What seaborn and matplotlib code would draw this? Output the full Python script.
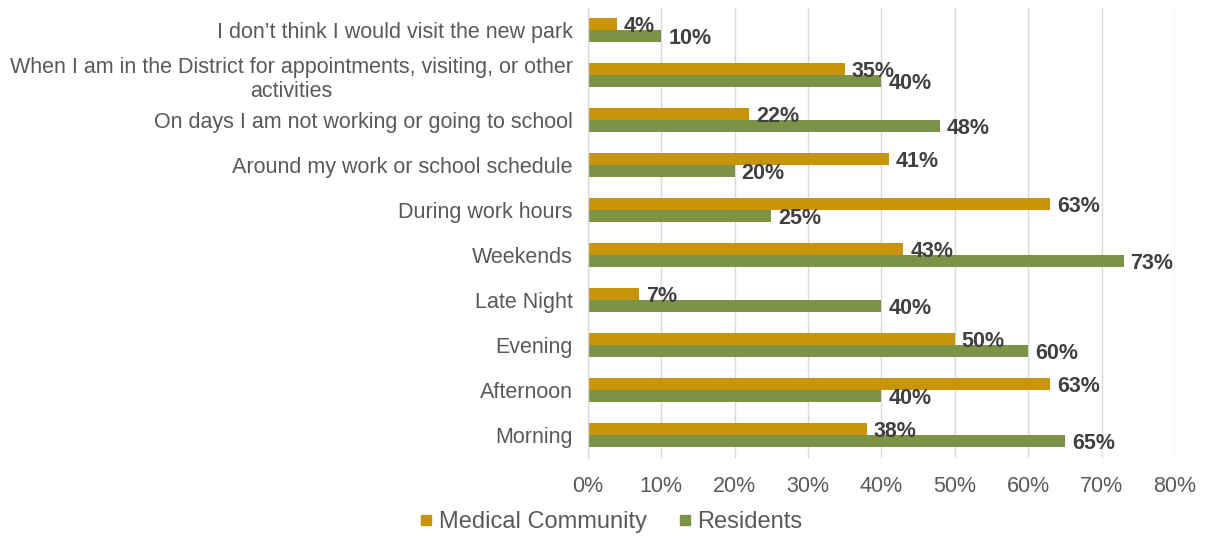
import matplotlib
matplotlib.use("Agg")
import matplotlib.pyplot as plt
import seaborn as sns
import pandas as pd
from matplotlib.lines import Line2D

categories = [
    "I don\u2019t think I would visit the new park",
    "When I am in the District for appointments, visiting, or other\nactivities",
    "On days I am not working or going to school",
    "Around my work or school schedule",
    "During work hours",
    "Weekends",
    "Late Night",
    "Evening",
    "Afternoon",
    "Morning",
]
medical = [4, 35, 22, 41, 63, 43, 7, 50, 63, 38]
residents = [10, 40, 48, 20, 25, 73, 40, 60, 40, 65]
series = ["Medical Community", "Residents"]
xticks = [0, 10, 20, 30, 40, 50, 60, 70, 80]

colors = ["#C8950A", "#7B9247"]

df = pd.DataFrame({
    "category": categories * 2,
    "value": medical + residents,
    "series": [series[0]] * len(categories) + [series[1]] * len(categories),
})

sns.set_theme(style="white")
plt.rcParams["font.family"] = ["Liberation Sans", "DejaVu Sans"]

fig = plt.figure(figsize=(12.07, 5.37), dpi=100)
ax = fig.add_axes([0.487, 0.148, 0.4865, 0.838])

sns.barplot(data=df, y="category", x="value", hue="series", order=categories,
            hue_order=series, palette=colors, orient="h", width=0.54,
            saturation=1, ax=ax, legend=False, edgecolor="none")

for cont in ax.containers:
    anns = ax.bar_label(cont, fmt="%d%%", padding=5, fontsize=15.5,
                        fontweight="bold", color="#404040")
    for a in anns:
        a.xyann = (5, -2)

ax.set_xlim(0, 80)
ax.set_xticks(xticks)
ax.set_xticklabels([f"{t}%" for t in xticks], fontsize=15.5, color="#595959")
ax.tick_params(axis="x", length=0, pad=13)
ax.tick_params(axis="y", length=0, pad=11, labelsize=15.5, labelcolor="#595959")
for lab in ax.get_yticklabels():
    lab.set_multialignment("center")
ax.set_xlabel("")
ax.set_ylabel("")
ax.grid(axis="x", color="#D9D9D9", linewidth=1)
ax.set_axisbelow(True)
for s in ["top", "right", "bottom"]:
    ax.spines[s].set_visible(False)
ax.spines["left"].set_color("#D9D9D9")
ax.spines["left"].set_linewidth(1)

handles = [Line2D([0], [0], marker="s", linestyle="none", markersize=7,
                  markerfacecolor=c, markeredgecolor=c) for c in colors]
fig.legend(handles, series, loc="lower center", bbox_to_anchor=(0.504, -0.032),
           ncol=2, frameon=False, fontsize=17, handletextpad=0.05,
           handlelength=1.0, columnspacing=1.1, labelcolor="#595959")

fig.savefig("out.png", dpi=100)
